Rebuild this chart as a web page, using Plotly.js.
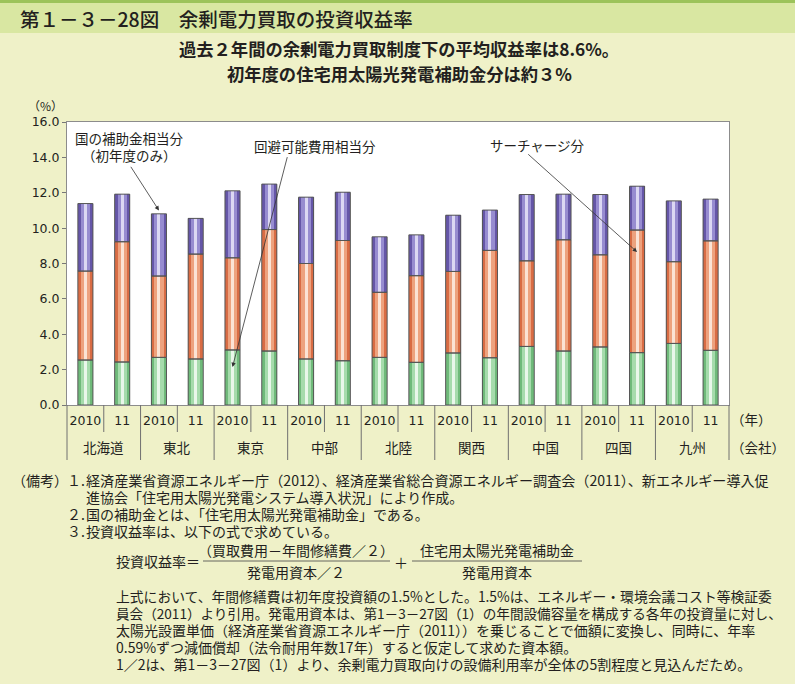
<!DOCTYPE html>
<html>
<head>
<meta charset="utf-8">
<script src="https://cdn.plot.ly/plotly-3.0.1.min.js"></script>
<style>html,body{margin:0;padding:0;background:#eff1c8;}#chart{width:795px;height:684px;}</style>
</head>
<body>
<div id="chart"></div>
<script>
// ---- data ----
const companies = ['北海道','東北','東京','中部','北陸','関西','中国','四国','九州'];
const years = ['2010','11'];
// 回避可能費用相当分 (green, bottom)
const avoidedCost = [2.54,2.43, 2.69,2.60, 3.11,3.05, 2.60,2.50, 2.69,2.41, 2.94,2.67, 3.31,3.05, 3.28,2.96, 3.48,3.09];
// サーチャージ分 (orange, middle)
const surcharge   = [5.03,6.80, 4.60,5.93, 5.21,6.87, 5.40,6.80, 3.68,4.90, 4.61,6.07, 4.84,6.29, 5.21,6.93, 4.62,6.19];
// 国の補助金相当分（初年度のみ） (purple, top)
const subsidy     = [3.82,2.69, 3.52,2.02, 3.79,2.57, 3.75,2.73, 3.14,2.31, 3.18,2.28, 3.75,2.58, 3.41,2.48, 3.44,2.36];
const yTicks = [0,2,4,6,8,10,12,14,16];

// ---- geometry helpers (pixel -> paper) ----
const L = 67, R = 729, T = 122, B = 405;
const W = 795, H = 684;
const px = x => (x - L) / (R - L);
const py = y => (B - y) / (B - T);

const n = companies.length * years.length;
const xs = [], yearText = [];
companies.forEach((c, ci) => years.forEach((y, yi) => { xs.push(ci * 2 + yi); yearText.push(y); }));

const baseOrange = avoidedCost.map(v => v);
const basePurple = avoidedCost.map((v, i) => v + surcharge[i]);
const zeros = avoidedCost.map(() => 0);

const segs = [
  {vals: avoidedCost, base: zeros, c: ['#6fba7a', '#a6dbac', '#e9f7ea']},
  {vals: surcharge, base: baseOrange, c: ['#d96c44', '#eda27e', '#fbe3d5']},
  {vals: subsidy, base: basePurple, c: ['#6556a8', '#978cd0', '#dcd8f3']}
];
const widths = [0.41, 0.25, 0.08];
const traces = [];
segs.forEach(s => {
  widths.forEach((w, k) => {
    traces.push({type: 'bar', x: xs, y: s.vals, base: s.base, width: xs.map(() => w),
      marker: {color: s.c[k], line: {width: 0}}, hoverinfo: 'skip', showlegend: false});
  });
});
segs.forEach(s => {
  traces.push({type: 'bar', x: xs, y: s.vals, base: s.base, width: xs.map(() => widths[0]),
    marker: {color: 'rgba(0,0,0,0)', line: {width: 1, color: '#555555'}}, hoverinfo: 'skip', showlegend: false});
});

const cjk = 'Noto Sans CJK JP';
const txt = '#231f20';
const shapes = [
  {type: 'rect', xref: 'paper', yref: 'paper', x0: px(0), x1: px(W), y0: py(33), y1: py(0), fillcolor: '#d9e7a2', line: {width: 0}, layer: 'below'},
  {type: 'rect', xref: 'paper', yref: 'paper', x0: px(0), x1: px(W), y0: py(3), y1: py(0), fillcolor: '#9cc35a', line: {width: 0}, layer: 'below'}
];
for (let k = 0; k <= n; k++) {
  const long = k % 2 === 0;
  shapes.push({type: 'line', xref: 'paper', yref: 'paper', x0: k / n, x1: k / n, y0: 0, y1: py(long ? 460 : 432),
    line: {color: '#707070', width: 1}});
}
// fraction lines of the formula
shapes.push({type: 'line', xref: 'paper', yref: 'paper', x0: px(203), x1: px(390), y0: py(561), y1: py(561), line: {color: '#444', width: 0.8}});
shapes.push({type: 'line', xref: 'paper', yref: 'paper', x0: px(412), x1: px(582), y0: py(561), y1: py(561), line: {color: '#444', width: 0.8}});

const ann = [];
const A = (text, x, y, opts) => ann.push(Object.assign({text, x: px(x), y: py(y), xref: 'paper', yref: 'paper',
  showarrow: false, xanchor: 'left', yanchor: 'middle', font: {family: cjk, size: 13.5, color: txt}}, opts || {}));

A('第１－３－28図　余剰電力買取の投資収益率', 18, 18, {font: {family: cjk, size: 19.5, color: txt, weight: 500}});
A('過去２年間の余剰電力買取制度下の平均収益率は8.6%。', 399, 49, {xanchor: 'center', font: {family: cjk, size: 17.3, color: txt, weight: 'bold'}});
A('初年度の住宅用太陽光発電補助金分は約３%', 399, 73, {xanchor: 'center', font: {family: cjk, size: 17.3, color: txt, weight: 'bold'}});
A('（%）', 45, 105, {xanchor: 'center', font: {family: cjk, size: 12, color: txt}});

// axis-end labels
A('（年）', 729, 419);
A('（会社）', 729, 447);

// company labels
companies.forEach((c, ci) => ann.push({text: c, x: ci * 2 + 0.5, xref: 'x', y: py(447), yref: 'paper', showarrow: false,
  xanchor: 'center', yanchor: 'middle', font: {family: cjk, size: 13.5, color: txt}}));

// labels inside chart
A('国の補助金相当分', 129, 138, {xanchor: 'center'});
A('（初年度のみ）', 129, 155, {xanchor: 'center'});
A('回避可能費用相当分', 315, 146, {xanchor: 'center'});
A('サーチャージ分', 537, 145, {xanchor: 'center'});

// arrows (tail -> tip, in data coordinates)
const arrow = (x, y, axv, ayv) => ann.push({text: '', x, y, ax: axv, ay: ayv, xref: 'x', yref: 'y', axref: 'x', ayref: 'y',
  showarrow: true, arrowhead: 2, arrowsize: 1.1, arrowwidth: 0.8, arrowcolor: '#333', standoff: 0, startstandoff: 0});
arrow(2.0, 11.0, 1.21, 13.55);
arrow(4.0, 2.15, 5.5, 14.1);
arrow(15.0, 8.65, 12.0, 14.25);

// notes
const nf = s => ({family: cjk, size: s || 14, color: txt});
A('（備考）', 10, 480, {font: nf(14)});
A('１.', 65, 480, {font: nf(14)});
A('経済産業省資源エネルギー庁（2012）、経済産業省総合資源エネルギー調査会（2011）、新エネルギー導入促', 84, 480, {font: nf(14.1)});
A('進協会「住宅用太陽光発電システム導入状況」により作成。', 84, 497, {font: nf(14)});
A('２.', 65, 514, {font: nf(14)});
A('国の補助金とは、「住宅用太陽光発電補助金」である。', 84, 514, {font: nf(14)});
A('３.', 65, 531, {font: nf(14)});
A('投資収益率は、以下の式で求めている。', 84, 531, {font: nf(14)});
A('投資収益率＝', 114, 561, {font: nf(14)});
A('（買取費用－年間修繕費／２）', 296, 550, {xanchor: 'center', font: nf(14)});
A('発電用資本／２', 296, 572, {xanchor: 'center', font: nf(14)});
A('＋', 401, 562, {xanchor: 'center', font: nf(14)});
A('住宅用太陽光発電補助金', 497, 550, {xanchor: 'center', font: nf(14)});
A('発電用資本', 497, 572, {xanchor: 'center', font: nf(14)});
A('上式において、年間修繕費は初年度投資額の1.5%とした。1.5%は、エネルギー・環境会議コスト等検証委', 114, 596, {font: nf(13.8)});
A('員会（2011）より引用。発電用資本は、第1－3－27図（1）の年間設備容量を構成する各年の投資量に対し、', 114, 613, {font: nf(13.6)});
A('太陽光設置単価（経済産業省資源エネルギー庁（2011））を乗じることで価額に変換し、同時に、年率', 114, 630, {font: nf(14)});
A('0.59%ずつ減価償却（法令耐用年数17年）すると仮定して求めた資本額。', 114, 647, {font: nf(14)});
A('1／2は、第1－3－27図（1）より、余剰電力買取向けの設備利用率が全体の5割程度と見込んだため。', 114, 664, {font: nf(14)});

const layout = {
  width: W, height: H,
  margin: {l: L, r: W - R, t: T, b: H - B, pad: 0},
  paper_bgcolor: '#eff1c8', plot_bgcolor: '#ffffff',
  barmode: 'overlay', bargap: 0,
  showlegend: false,
  font: {family: cjk, color: txt},
  xaxis: {range: [-0.5, n - 0.5], tickmode: 'array', tickvals: xs, ticktext: yearText, ticks: '',
    showline: true, linecolor: '#8c8c8c', linewidth: 1, mirror: true, showgrid: false, zeroline: false,
    tickfont: {family: 'DejaVu Sans', size: 12.5, color: txt}, ticklabelstandoff: 4, fixedrange: true},
  yaxis: {range: [0, 16], tickmode: 'array', tickvals: yTicks, ticktext: yTicks.map(v => v.toFixed(1)),
    ticks: 'outside', ticklen: 4, tickcolor: '#777', tickwidth: 1,
    showline: true, linecolor: '#8c8c8c', linewidth: 1, mirror: true, showgrid: false, zeroline: false,
    tickfont: {family: 'DejaVu Sans', size: 12.5, color: txt}, fixedrange: true},
  shapes, annotations: ann
};
Plotly.newPlot('chart', traces, layout, {displayModeBar: false, staticPlot: true});
</script>
</body>
</html>
